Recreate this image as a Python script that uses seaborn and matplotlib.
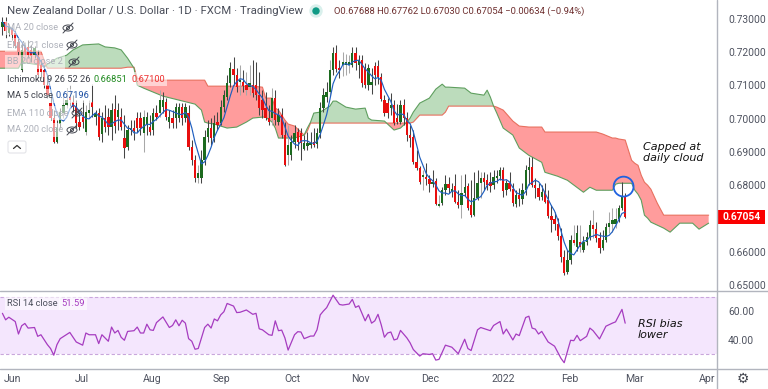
import numpy as np
import pandas as pd
import seaborn as sns
import matplotlib
matplotlib.use("Agg")
import matplotlib.pyplot as plt
from matplotlib.patches import Ellipse, Rectangle, FancyBboxPatch
from matplotlib.lines import Line2D
from matplotlib.transforms import Affine2D

# ---- daily candles, price x 10000
opens = [7276,7291,7258,7270,7258,7231,7146,7216,7216,7207,7191,7191,7161,7146,7101,7047,7002,6930,6984,7017,
7041,7065,7050,7035,6990,7005,6960,7017,7050,7005,7017,6954,7002,7005,6975,7029,7005,7005,6942,6915,
6966,6972,7002,7002,6957,6981,6975,6966,7017,7017,7035,7050,6990,7002,7002,7002,7035,7002,7017,6915,
6875,6821,6821,6875,6945,6972,6942,6990,6987,7035,7065,7107,7149,7131,7110,7110,7101,7095,7101,7101,
7071,7056,7032,7002,7002,7062,6990,7011,6951,6890,6890,6930,6960,6957,6909,6918,6921,6930,6924,6957,
7032,7065,7080,7146,7197,7152,7161,7161,7161,7161,7197,7161,7176,7152,7101,7101,7158,7158,7125,7056,
7047,7032,7041,7002,6990,7041,7002,6951,6945,6869,6851,6824,6824,6818,6803,6812,6737,6746,6785,6803,
6782,6797,6749,6740,6776,6797,6740,6710,6761,6806,6821,6815,6809,6800,6821,6827,6845,6785,6806,6788,
6743,6770,6758,6785,6845,6854,6800,6791,6764,6779,6755,6707,6698,6683,6647,6583,6538,6574,6635,6614,
6629,6605,6629,6644,6680,6668,6641,6611,6635,6674,6683,6683,6698,6731,6769]
closes = [7291,7264,7276,7252,7219,7201,7207,7201,7191,7188,7213,7131,7140,7101,7071,7002,6930,6972,7020,7041,
7056,7056,7035,6987,6975,6990,7020,7026,7035,7017,6945,7002,6975,6975,7026,6978,7026,6975,6912,6966,
6972,6963,6972,6972,7005,7005,6960,7017,7005,7056,7056,7005,7005,6987,7035,7035,7002,7035,6915,6875,
6821,6836,6875,6945,6972,6942,6987,6981,7035,7071,7107,7152,7131,7095,7116,7098,7086,7107,7077,7071,
7032,7026,7002,6990,7062,6996,7011,6951,6860,6921,6930,6957,6930,6927,6927,6927,6927,6921,6957,7032,
7071,7080,7146,7197,7149,7146,7170,7170,7170,7197,7167,7176,7107,7101,7152,7110,7131,7125,7059,7017,
7017,7041,6987,6990,7041,7002,6951,6942,6869,6851,6809,6830,6818,6803,6809,6743,6743,6785,6803,6791,
6788,6749,6740,6776,6794,6731,6710,6761,6806,6821,6809,6800,6797,6824,6827,6845,6782,6806,6788,6746,
6770,6758,6785,6845,6854,6800,6791,6764,6779,6749,6707,6695,6683,6647,6583,6535,6574,6635,6626,6656,
6614,6629,6644,6680,6668,6641,6611,6635,6674,6686,6695,6698,6731,6767,6705]
highs = [7306,7306,7279,7276,7267,7243,7228,7231,7237,7222,7219,7207,7176,7161,7131,7071,7026,6996,7032,7071,
7092,7101,7071,7056,7020,7056,7041,7056,7104,7026,7032,7020,7041,7032,7047,7071,7047,7032,7011,6981,
6996,6996,7020,7020,7026,7020,7011,7032,7041,7086,7080,7062,7026,7026,7047,7047,7047,7047,7041,6936,
6890,6860,6906,6966,6996,7002,7011,7020,7056,7086,7131,7170,7185,7152,7161,7146,7140,7161,7176,7170,
7140,7086,7080,7041,7092,7086,7032,7032,6990,6981,6951,6981,6972,6972,6951,6960,6960,6972,6972,7050,
7092,7110,7176,7216,7222,7176,7201,7194,7191,7216,7216,7191,7191,7167,7164,7152,7170,7176,7137,7071,
7062,7077,7056,7044,7056,7059,7020,6981,6966,6906,6857,6845,6866,6830,6845,6821,6770,6794,6830,6824,
6806,6833,6785,6830,6833,6806,6815,6839,6845,6839,6839,6833,6839,6845,6845,6854,6854,6815,6839,6806,
6785,6791,6806,6860,6884,6884,6821,6806,6800,6806,6785,6740,6719,6701,6671,6605,6605,6650,6680,6680,
6680,6647,6659,6695,6725,6689,6659,6665,6686,6719,6731,6731,6740,6809,6776]
lows = [7252,7243,7249,7237,7213,7191,7140,7176,7182,7170,7182,7122,7122,7092,7062,6996,6927,6927,6972,7002,
7032,7032,7020,6972,6966,6972,6951,7002,7005,6981,6936,6930,6960,6951,6936,6957,6966,6966,6881,6906,
6951,6936,6960,6951,6900,6951,6951,6951,6996,7005,7017,6996,6972,6972,6972,6990,6981,6990,6906,6860,
6809,6806,6806,6860,6930,6921,6930,6966,6981,7020,7056,7095,7101,7080,7071,7080,7071,7071,7065,7056,
7011,7002,6996,6981,6981,6981,6981,6942,6857,6860,6875,6912,6906,6875,6906,6906,6912,6915,6912,6942,
7020,7050,7068,7131,7140,7122,7128,7131,7137,7155,7146,7122,7095,7092,7086,7074,7101,7104,7053,7008,
7002,7011,6981,6984,6984,6981,6933,6915,6863,6845,6803,6785,6800,6779,6794,6740,6734,6740,6770,6776,
6764,6746,6731,6701,6767,6725,6704,6707,6755,6761,6785,6785,6779,6788,6806,6815,6764,6770,6782,6737,
6734,6737,6743,6770,6800,6794,6761,6755,6755,6746,6701,6659,6665,6635,6568,6529,6532,6562,6620,6602,
6599,6599,6620,6635,6641,6629,6596,6605,6629,6656,6659,6671,6689,6725,6703]
pale_wick_days = [7,19,20,21,26,27,44,49,61,74,76,77,84,89,102,106,107,108,131,136,143,149,178,180,184,189,190,191]

# ---- Ichimoku spans, price x 10000
cloud_day = [-1,5,6,12,13,14,17,20,22,25,30,32,35,37,39,41,42,44,50,55,60,62,63,64,66,70,73,76,78,81,82,84,85,86,88,89,91,94,95,96,97,99,102,103,104,107,110,113,114,115,119,120,122,124,125,126,127,128,130,133,135,137,138,139,144,146,150,151,152,153,154,156,159,161,164,168,169,173,176,181,183,185,187,190,191,192,194,196,197,198,199,200,201,202,204,206,208,211,215,217,220]
span_a = [7152,7152,7170,7161,7155,7164,7182,7191,7207,7222,7225,7216,7213,7207,7182,7152,7101,7092,7068,7056,7044,7026,6990,6987,6984,6972,6975,6990,7002,7005,7005,6990,6972,6942,6942,6942,6942,6951,6972,6990,7017,7020,7038,7053,7053,7035,7029,7032,7002,6996,6993,6984,6966,6972,6981,6990,7002,7020,7047,7062,7089,7104,7095,7095,7092,7077,7071,7086,7065,7038,7017,6972,6951,6912,6890,6869,6839,6827,6815,6779,6794,6785,6785,6785,6803,6806,6806,6806,6785,6773,6755,6710,6701,6689,6680,6671,6659,6686,6686,6668,6686]
span_b = [7203,7203,7203,7203,7176,7152,7152,7152,7152,7152,7152,7152,7152,7152,7155,7155,7122,7116,7116,7116,7116,7116,7116,7098,7098,7098,7098,7098,7098,7095,7062,7062,7032,7026,6996,6984,6978,6951,6963,6987,6987,6987,6987,6987,6987,6987,6987,6987,6987,6987,6987,6987,6987,6987,6987,6987,6987,6990,7011,7011,7011,7011,7020,7038,7038,7038,7038,7038,7038,7038,7035,7026,6993,6978,6975,6975,6960,6960,6960,6960,6960,6960,6954,6942,6942,6939,6936,6875,6866,6860,6830,6809,6800,6788,6746,6710,6710,6710,6710,6710,6710]

# ---- RSI 14 close
rsi_day = [0,1,2,4,5,6,7,8,10,11,12,14,15,16,17,18,21,23,25,26,27,29,30,31,33,34,35,36,37,38,39,41,42,43,44,45,46,47,48,50,52,53,54,55,56,57,58,59,60,61,63,64,65,66,67,68,69,70,72,73,74,76,78,79,80,81,83,84,85,86,87,88,89,91,92,93,94,96,97,98,99,100,101,103,105,106,108,109,110,111,113,114,115,116,117,118,119,120,121,122,123,124,126,127,128,130,131,133,134,135,136,138,140,142,144,145,146,148,149,152,153,155,156,157,159,160,161,162,163,164,165,166,167,168,170,172,174,175,177,178,179,180,182,183,184,186,188,190,191,193,194]
rsi_val = [58.4,53.9,55.7,52.7,44.1,49.8,51.4,48.2,48.6,42.5,43.6,36.8,34.1,29.5,36.8,40.9,45.2,38.6,36.4,44.8,43.6,43.6,37.5,43.6,39.1,48.9,44.8,46.6,41.8,39.8,45.9,46.4,48.9,44.8,44.8,50.9,47.0,46.6,52.0,55.9,48.6,50.0,53.9,49.8,53.6,51.6,40.9,39.1,33.6,34.1,48.6,50.9,48.2,54.5,53.2,57.3,59.5,65.2,63.4,58.9,59.1,60.7,57.7,58.4,47.7,47.0,43.6,43.2,53.2,46.4,46.8,41.4,33.0,43.6,45.7,45.5,40.9,42.7,42.7,47.0,57.3,60.0,62.3,70.9,64.5,64.1,64.8,68.0,62.5,63.6,53.2,57.7,51.6,53.2,57.7,50.5,41.9,44.8,45.5,40.0,40.7,46.6,41.4,38.0,33.4,28.9,30.5,30.0,30.5,26.1,26.6,36.4,35.0,30.5,40.5,34.1,32.7,47.0,48.6,46.4,50.0,52.7,44.1,47.5,40.0,44.1,43.0,49.3,55.5,56.4,48.2,47.5,44.1,45.9,38.6,35.7,27.3,24.3,39.8,39.5,43.2,39.5,42.5,48.2,46.4,40.7,49.5,51.6,52.5,61.1,51.59]

month_pos = [3,24.8,46.6,68.4,90.5,111.4,133.2,155.9,176.8,196.8,219.5]
month_labels = ["Jun","Jul","Aug","Sep","Oct","Nov","Dec","2022","Feb","Mar","Apr"]
price_ticks = [0.65,0.66,0.68,0.69,0.70,0.71,0.72,0.73]
rsi_ticks = [40,60]
last_price = 0.67054

UP, DOWN = "#1c6a1f", "#e80e0e"
PALE, DARK = "#a8a8a8", "#454545"
BORDER, LABEL = "#b2b5be", "#4f5360"

sns.set_theme(style="white")
plt.rcParams["font.family"] = ["Roboto", "DejaVu Sans"]

W, H = 768, 389
fig = plt.figure(figsize=(W/100, H/100), dpi=100)
ax = fig.add_axes([0, 1-291/H, 717/W, 291/H])
rx = fig.add_axes([0, 1-368.5/H, 717/W, 77.5/H], sharex=ax)
px = Affine2D().scale(1, -1).translate(0, H)

fx = pd.DataFrame({"o": opens, "c": closes, "h": highs, "l": lows}) / 1e4
fx["day"] = np.arange(len(fx))
fx["pale"] = fx["day"].isin(pale_wick_days)
fx["up"] = fx["c"] >= fx["o"]
fx["ma5"] = fx["c"].rolling(5, min_periods=1).mean()

cloud = pd.DataFrame({"day": cloud_day, "a": np.array(span_a)/1e4, "b": np.array(span_b)/1e4})
ax.fill_between(cloud.day, cloud.a, cloud.b, where=cloud.a >= cloud.b, interpolate=True,
                color="#bcdcbc", lw=0, zorder=1)
ax.fill_between(cloud.day, cloud.a, cloud.b, where=cloud.a <= cloud.b, interpolate=True,
                color="#ff9c9c", lw=0, zorder=1)
sns.lineplot(data=cloud, x="day", y="b", ax=ax, color="#e8705f", lw=0.8, estimator=None, zorder=2)
sns.lineplot(data=cloud, x="day", y="a", ax=ax, color="#5f9f5f", lw=0.8, estimator=None, zorder=2)

ax.vlines(fx.day, fx.l, fx.h, colors=np.where(fx.pale, PALE, DARK), lw=0.75, zorder=3)
ax.bar(fx.day, (fx.c-fx.o).abs().clip(lower=0.0003), bottom=fx[["o", "c"]].min(axis=1), width=0.72,
       color=np.where(fx.up, UP, DOWN), lw=0, zorder=4)
sns.lineplot(data=fx, x="day", y="ma5", ax=ax, color="#1f5fc0", lw=0.85, estimator=None, zorder=5)

ax.scatter([193.5], [0.6796], s=205, facecolors="none", edgecolors="#1f62e0", lw=1.3, zorder=6)
ax.text(199.7, 0.6867, "Capped at\ndaily cloud", style="italic", fontsize=8, family="DejaVu Sans",
        color="#111111", linespacing=1.1, va="bottom", ha="left", zorder=7)

ax.set_xlim(-0.75, 222.6)
ax.set_ylim(0.6482, 0.73571)

rx.axhspan(30, 70, color="#f4e6fd", lw=0, zorder=0)
for level in (30, 70):
    rx.axhline(level, color="#c9a6dc", lw=0.8, ls=(0, (3, 2)), zorder=1)
sns.lineplot(x=rsi_day, y=rsi_val, ax=rx, color="#a63cc0", lw=0.9, estimator=None, zorder=2)
rx.text(198.0, 54.5, "RSI bias\nlower", style="italic", fontsize=8, family="DejaVu Sans",
        color="#111111", linespacing=1.1, va="top", ha="left", zorder=3)
rx.set_ylim(20.3, 73.8)

for a in (ax, rx):
    a.set_xlabel(""); a.set_ylabel("")
    a.yaxis.tick_right()
    a.grid(False)
    for s in a.spines.values():
        s.set_visible(False)
    a.tick_params(axis="y", length=0, pad=8, labelsize=7.4, labelcolor=LABEL)
ax.set_yticks(price_ticks, [f"{t:.5f}" for t in price_ticks])
rx.set_yticks(rsi_ticks, [f"{t:.2f}" for t in rsi_ticks])
ax.tick_params(axis="x", length=0, labelbottom=False)
rx.set_xticks(month_pos, month_labels)
rx.tick_params(axis="x", length=0, pad=4, labelsize=7.6, labelcolor=LABEL)

# pane frame
for (x0, y0, x1, y1) in [(717, 0, 717, 389), (0, 290.7, 768, 290.7), (0, 368.7, 768, 368.7)]:
    fig.add_artist(Line2D([x0, x1], [y0, y1], color=BORDER, lw=1.0, transform=px))

def label(x, y, s, color=LABEL, size=6.7, **kw):
    kw.setdefault("va", "center")
    return fig.text(x, y, s, color=color, fontsize=size, transform=px, **kw)

label(7, 11, "New Zealand Dollar / U.S. Dollar · 1D · FXCM · TradingView", color="#4a4e5a", size=8.2)
fig.add_artist(Ellipse((316, 11), 12, 12, color="#d9f0ec", transform=px))
fig.add_artist(Ellipse((316, 11), 6, 6, color="#0f9a85", transform=px))
label(334, 11, "O0.67688 H0.67762 L0.67030 C0.67054 −0.00634 (−0.94%)", color="#6e2f2f", size=6.8)

soft = dict(facecolor="white", alpha=0.55, edgecolor="none", pad=1.5)
MUTED = "#aeb1ba"
rows = [(28, "MA 20 close", 68), (45, "EMA 21 close", 72), (62, "BB 20 close 2", 74),
        (113, "EMA 110 close", 77), (130, "MA 200 close", 72)]
for y, s, eye in rows:
    label(7, y, s, color=MUTED, bbox=soft)
    fig.add_artist(Ellipse((eye, y), 10, 6, fill=False, ec="#444750", lw=0.7, transform=px))
    fig.add_artist(Ellipse((eye, y), 3, 3, fill=False, ec="#444750", lw=0.7, transform=px))
    fig.add_artist(Line2D([eye-5, eye+5], [y+5, y-5], color="#444750", lw=0.7, transform=px))
label(7, 79, "Ichimoku 9 26 52 26", color="#3d404a", bbox=soft)
label(94, 79, "0.66851", color="#1f8a1f", bbox=soft)
label(131, 79, "0.67100", color="#ee3030", bbox=soft)
label(7, 96, "MA 5 close", color="#3d404a", bbox=soft)
label(56, 96, "0.67196", color="#1d4fa3", bbox=soft)
fig.add_artist(FancyBboxPatch((8, 141), 18, 12, boxstyle="round,pad=0,rounding_size=2",
                              fc="white", ec="#e3e4e8", lw=0.8, transform=px))
fig.add_artist(Line2D([13.5, 17, 20.5], [148.5, 145.5, 148.5], color="#333333", lw=0.9, transform=px))

label(7, 303, "RSI 14 close", color="#4a4e5a", bbox=dict(facecolor="white", alpha=0.6, edgecolor="none", pad=1.5))
label(61, 303, "51.59", color="#a63cc0", bbox=dict(facecolor="white", alpha=0.6, edgecolor="none", pad=1.5))

fig.add_artist(Rectangle((718, 210), 47, 14, color="#fa0000", lw=0, transform=px))
label(741.5, 217, f"{last_price:.5f}", color="white", size=7.4, ha="center", fontweight="bold")
fig.text(743, 379, "\u2699", transform=px, fontsize=10, color="#444750", ha="center", va="center", family="DejaVu Sans")

fig.savefig("out.png", dpi=100, facecolor="white")
